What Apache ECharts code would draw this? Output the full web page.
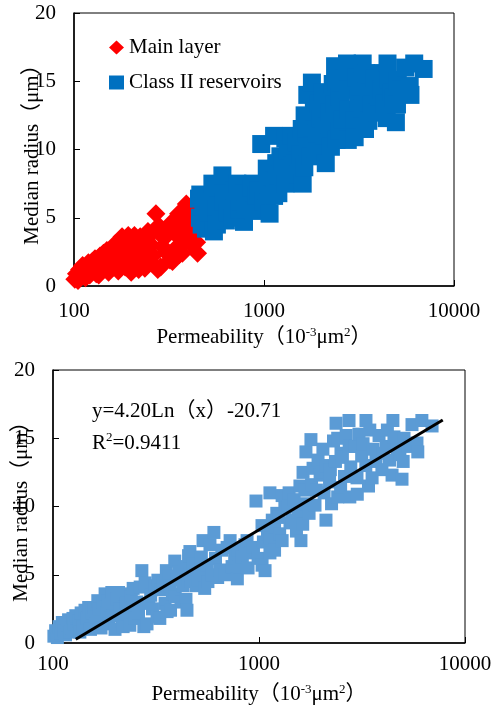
<!DOCTYPE html>
<html><head><meta charset="utf-8">
<script src="https://cdn.jsdelivr.net/npm/echarts@6/dist/echarts.min.js"></script>
<style>html,body{margin:0;padding:0;background:#fff}#c{width:497px;height:711px}</style>
</head><body><div id="c"></div>
<script>
// ---- data ----
const xTicks = [100, 1000, 10000];
const yTicks = [0, 5, 10, 15, 20];
const legendNames = ['Main layer', 'Class II reservoirs'];
const yTitle = 'Median radius（μm）';
const fitEquation = 'y=4.20Ln（x）-20.71';
const fitR2 = '0.9411';

// Main layer samples (permeability 10^-3 μm², median radius μm)
const mainLayer = [
 [101,0.5],[103,0.9],[105,0.4],[107,1.2],[109,0.7],[110,1.1],[111,1.5],[113,0.9],[115,0.6],[117,1.3],[119,1.7],
 [121,0.8],[123,1.1],[125,1.8],[127,1.4],[129,2.0],[131,0.9],[134,1.6],[135,0.8],[137,2.2],[140,1.2],[143,2.4],
 [146,1.8],[149,2.6],[152,1.0],[155,2.2],[158,2.6],[161,1.4],[164,1.9],[165,3.1],[168,2.5],[171,1.1],[175,3.0],
 [179,3.6],[183,2.2],[185,3.1],[186,1.4],[190,2.8],[193,3.7],[196,2.0],[200,1.0],[204,3.2],[208,3.7],[212,2.5],
 [216,1.6],[219,1.2],[223,3.6],[227,2.9],[231,2.1],[236,1.3],[240,3.4],[245,2.6],[245,4.0],[250,1.8],[255,3.0],
 [260,2.2],[265,4.1],[270,5.3],[276,1.2],[280,4.4],[286,1.4],[292,2.9],[298,3.5],[304,2.5],[312,4.2],
 [320,1.9],[323,4.6],[330,1.8],[336,3.9],[342,4.4],[350,2.9],[355,5.3],[358,2.3],[365,4.9],[370,4.2],[372,2.4],[380,3.6],
 [390,6.0],[392,3.4],[400,4.6],[410,5.2],[418,3.0],[428,4.2],[435,5.6],[442,3.2],[447,2.4],[452,4.7]
];
// Class II reservoir samples
const classII = [
 [455,6.4],[460,5.0],[462,6.7],[470,4.5],[480,5.8],[495,4.2],[505,4.6],[517,5.35],[525,6.3],[535,7.5],
 [545,4.0],[560,5.7],[565,4.5],[578,7.2],[590,5.0],[604,8.1],[615,6.2],[630,4.8],[645,5.35],[660,6.8],
 [683,5.0],[700,7.0],[724,7.5],[740,5.6],[762,6.2],[785,4.7],[790,6.8],[800,5.6],[830,6.3],[855,7.2],
 [875,7.5],[885,5.5],[910,6.6],[940,7.0],[967,10.4],[990,6.2],[1035,5.7],[1034,8.6],[1050,7.4],[1070,5.3],
 [1100,8.0],[1130,6.6],[1130,7.7],[1130,11.0],[1160,9.0],[1190,6.8],[1190,8.5],[1220,9.5],[1250,9.2],[1260,8.0],[1295,7.5],
 [1295,10.8],[1335,9.9],[1380,10.0],[1400,11.0],[1414,8.8],[1450,9.0],[1480,10.5],[1520,8.2],[1550,9.6],[1580,11.5],[1598,7.5],[1630,8.7],
 [1636,12.5],[1670,11.2],[1690,14.0],[1700,10.2],[1750,9.5],[1787,14.9],[1800,11.6],[1830,12.8],[1870,10.1],[1900,11.2],[1935,13.4],[1980,12.3],
 [2030,12.5],[2043,14.2],[2070,11.0],[2114,9.0],[2120,13.0],[2200,11.8],[2220,12.7],[2250,10.2],[2300,14.8],[2350,13.3],[2366,16.1],[2410,10.7],
 [2410,15.0],[2490,11.4],[2500,13.9],[2540,13.6],[2600,12.2],[2650,15.2],[2735,16.3],[2740,14.4],[2760,10.7],[2790,12.9],[2925,14.4],
 [2990,12.1],[3000,10.9],[3058,15.3],[3150,13.7],[3200,14.6],[3300,13.0],[3306,16.3],[3400,11.5],[3450,15.6],[3540,12.1],[3575,14.2],[3700,13.3],[3826,15.2],
 [3950,12.7],[4000,13.9],[4138,14.4],[4200,15.6],[4300,13.4],[4425,12.3],[4467,16.3],[4520,15.1],[4700,14.2],[4830,13.8],[4945,12.0],[5010,13.3],
 [5058,15.0],[5300,14.4],[5530,16.0],[5845,14.65],[5900,14.0],[6175,16.3],[6920,15.9]
];
// fitted logarithmic trend line end points as drawn
const fitLine = [[129, 0.27], [7800, 16.34]];

// ---- chart ----
const allSamples = mainLayer.concat(classII);
const FONT = "'Liberation Serif','Times New Roman','Noto Sans CJK SC',serif";
const FS = 21;
const chart = echarts.init(document.getElementById('c'), null, {renderer: 'canvas'});

function xAxis(gridIndex, labelMargin) {
  return {
    type: 'log', logBase: 10, gridIndex,
    min: xTicks[0], max: xTicks[xTicks.length - 1],
    axisLine: {lineStyle: {color: '#000', width: 1.5}},
    axisTick: {inside: true, length: 6, lineStyle: {color: '#000'}},
    minorTick: {show: false}, splitLine: {show: false},
    axisLabel: {color: '#000', fontFamily: FONT, fontSize: FS, margin: labelMargin, showMinLabel: true, showMaxLabel: true,
      formatter: v => String(Math.round(v))},
    name: '{a|Permeability（10}{s|-3}{a|μm}{s|2}{a|）}',
    nameLocation: 'middle', nameGap: 40, nameMoveOverlap: false,
    nameTextStyle: {rich: {
      a: {fontFamily: FONT, fontSize: FS, color: '#000', lineHeight: 23},
      s: {fontFamily: FONT, fontSize: 13, color: '#000', lineHeight: 15, verticalAlign: 'top'}
    }}
  };
}
function yAxis(gridIndex, nameGap) {
  return {
    type: 'value', gridIndex, min: yTicks[0], max: yTicks[yTicks.length - 1], interval: yTicks[1] - yTicks[0],
    axisLine: {show: true, lineStyle: {color: '#000', width: 1.5}},
    axisTick: {show: true, inside: true, length: 6, lineStyle: {color: '#000'}},
    splitLine: {show: false},
    axisLabel: {color: '#000', fontFamily: FONT, fontSize: FS, margin: 18},
    name: yTitle, nameLocation: 'middle', nameGap, nameMoveOverlap: false,
    nameTextStyle: {color: '#000', fontFamily: FONT, fontSize: FS}
  };
}

chart.setOption({
  animation: false,
  backgroundColor: '#fff',
  grid: [
    {left: 74, top: 13, width: 380, height: 273, show: true, borderColor: '#000', borderWidth: 1, outerBoundsMode: 'none', containLabel: false},
    {left: 53, top: 370, width: 412, height: 273, show: true, borderColor: '#000', borderWidth: 1, outerBoundsMode: 'none', containLabel: false}
  ],
  xAxis: [xAxis(0, 15), xAxis(1, 11)],
  yAxis: [yAxis(0, 31), yAxis(1, 21)],
  legend: [
    {data: [legendNames[0]], left: 104, top: 32, orient: 'vertical', itemWidth: 15, itemHeight: 14,
     textStyle: {fontFamily: FONT, fontSize: FS, color: '#000'}},
    {data: [legendNames[1]], left: 104, top: 67, orient: 'vertical', itemWidth: 15, itemHeight: 14,
     textStyle: {fontFamily: FONT, fontSize: FS, color: '#000'}}
  ],
  graphic: [
    {type: 'text', x: 92, y: 411, style: {text: fitEquation, fontFamily: FONT, fontSize: FS, fill: '#000', verticalAlign: 'middle'}},
    {type: 'text', x: 92, y: 443, style: {text: '{a|R}{s|2}{a|=' + fitR2 + '}', verticalAlign: 'middle',
      rich: {a: {fontFamily: FONT, fontSize: FS, fill: '#000', lineHeight: 23},
             s: {fontFamily: FONT, fontSize: 13, fill: '#000', lineHeight: 15, verticalAlign: 'top'}}}}
  ],
  series: [
    {name: legendNames[0], type: 'scatter', xAxisIndex: 0, yAxisIndex: 0, data: mainLayer,
     symbol: 'diamond', symbolSize: 19, itemStyle: {color: '#FF0000', opacity: 1}},
    {name: legendNames[1], type: 'scatter', xAxisIndex: 0, yAxisIndex: 0, data: classII,
     symbol: 'rect', symbolSize: 18, itemStyle: {color: '#0070C0', opacity: 1}},
    {name: 'All samples', type: 'scatter', xAxisIndex: 1, yAxisIndex: 1, data: allSamples,
     symbol: 'rect', symbolSize: 13, itemStyle: {color: '#5B9BD5', opacity: 1}},
    {name: 'Fit', type: 'line', xAxisIndex: 1, yAxisIndex: 1, data: fitLine, showSymbol: false, symbol: 'none',
     lineStyle: {color: '#000', width: 3}, z: 5}
  ]
});
</script></body></html>
